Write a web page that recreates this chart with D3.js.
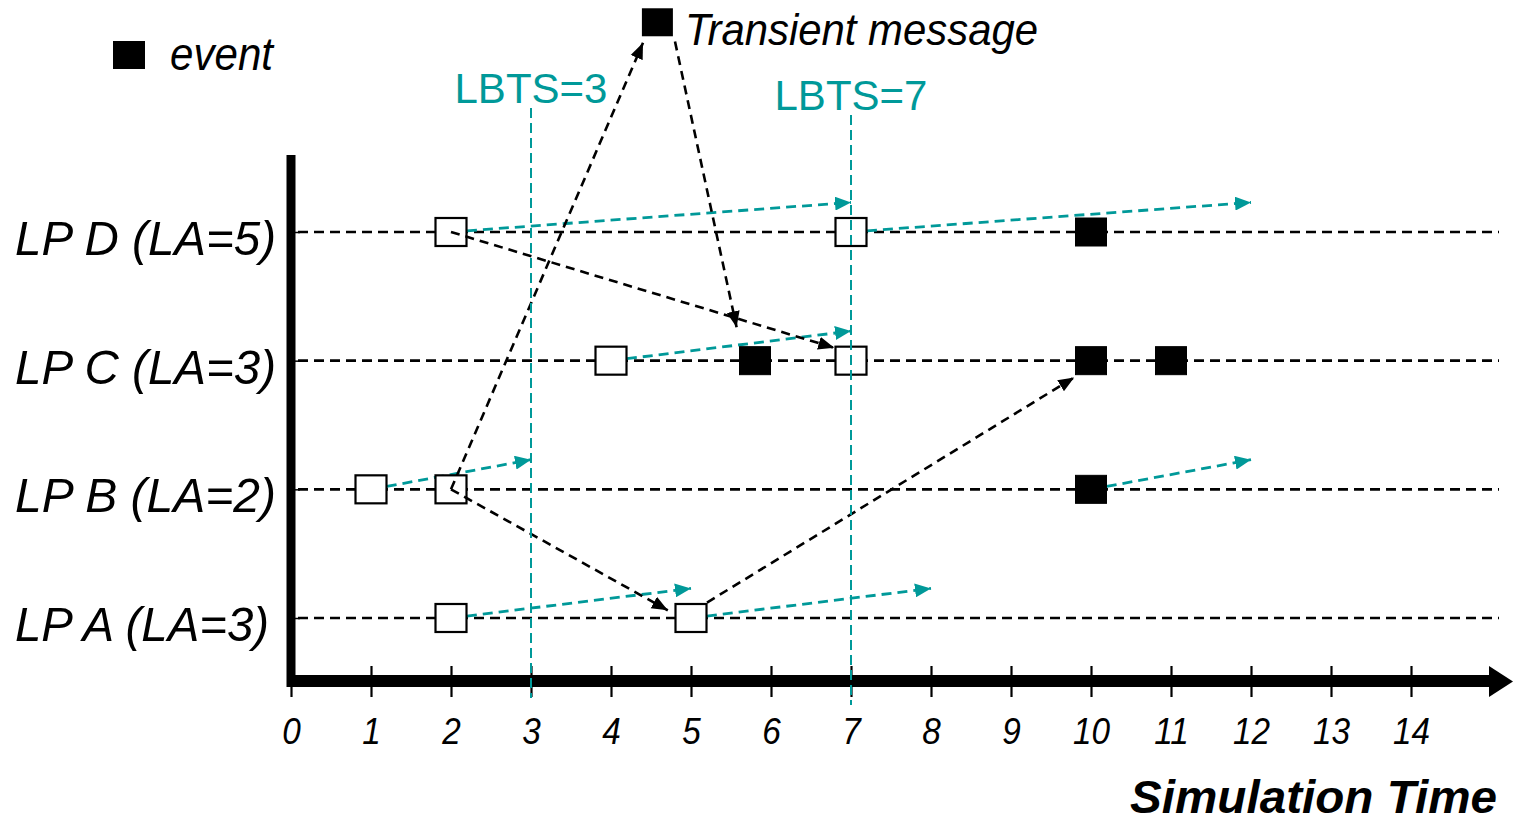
<!DOCTYPE html>
<html><head><meta charset="utf-8">
<script src="https://cdn.jsdelivr.net/npm/d3@7"></script>
<style>body{margin:0;background:#fff;} svg{display:block;}</style>
</head><body>
<svg id="chart" width="1513" height="823"></svg>
<script>
// ---------- data ----------
const lpNames = ["LP A", "LP B", "LP C", "LP D"];           // levels 0..3
const lpLookahead = [3, 2, 3, 5];
const xTickValues = [0, 1, 2, 3, 4, 5, 6, 7, 8, 9, 10, 11, 12, 13, 14];
const lbtsValues = [3, 7];
const openEvents = [
  {lp: "LP D", t: 2}, {lp: "LP D", t: 7},
  {lp: "LP C", t: 4}, {lp: "LP C", t: 7},
  {lp: "LP B", t: 1}, {lp: "LP B", t: 2},
  {lp: "LP A", t: 2}, {lp: "LP A", t: 5}
];
const filledEvents = [
  {lp: "LP D", t: 10},
  {lp: "LP C", t: 5.8}, {lp: "LP C", t: 10}, {lp: "LP C", t: 11},
  {lp: "LP B", t: 10}
];
const transientEvent = {t: 4.58, level: 4.63};
const lookaheadSources = [
  {lp: "LP D", t: 2}, {lp: "LP D", t: 7},
  {lp: "LP C", t: 4},
  {lp: "LP B", t: 1}, {lp: "LP B", t: 10},
  {lp: "LP A", t: 2}, {lp: "LP A", t: 5}
];
// messages: start (time, level) -> end (time, level)
const messages = [
  {t0: 2,   l0: 1,    t1: 4.40, l1: 4.47},
  {t0: 4.8, l0: 4.48, t1: 5.57, l1: 2.26},
  {t0: 2,   l0: 3,    t1: 6.79, l1: 2.10},
  {t0: 2,   l0: 1,    t1: 4.71, l1: 0.06},
  {t0: 5.2, l0: 0.12, t1: 9.79, l1: 1.87}
];
const lpLabels = ["LP A (LA=3)", "LP B (LA=2)", "LP C (LA=3)", "LP D (LA=5)"];

// ---------- setup ----------
const TEAL = "#009999";
const FONT = "'Liberation Sans', Arial, sans-serif";
const svg = d3.select("#chart");
const x = d3.scaleLinear().domain([0, 14]).range([291, 1411]);
const y = d3.scaleLinear().domain([0, 3]).range([618, 232]);
const level = name => lpNames.indexOf(name);
const BW = 31, BH = 28;

const defs = svg.append("defs");
defs.append("marker").attr("id", "blackHead").attr("markerUnits", "userSpaceOnUse")
  .attr("viewBox", "0 -7 16 14").attr("markerWidth", 16).attr("markerHeight", 14)
  .attr("refX", 16).attr("refY", 0).attr("orient", "auto")
  .append("path").attr("d", "M0,-6.5L16,0L0,6.5Z").attr("fill", "#000");
defs.append("marker").attr("id", "tealHead").attr("markerUnits", "userSpaceOnUse")
  .attr("viewBox", "0 -7 16 14").attr("markerWidth", 16).attr("markerHeight", 14)
  .attr("refX", 16).attr("refY", 0).attr("orient", "auto")
  .append("path").attr("d", "M0,-7L16,0L0,7Z").attr("fill", TEAL);

// row lines
svg.append("g").selectAll("line").data(lpNames).join("line")
  .attr("x1", 298).attr("x2", x(15.1))
  .attr("y1", d => y(level(d))).attr("y2", d => y(level(d)))
  .attr("stroke", "#000").attr("stroke-width", 2.6).attr("stroke-dasharray", "10,6");

// axes
const xAxisG = svg.append("g").attr("transform", "translate(0,666)")
  .call(d3.axisBottom(x).tickValues(xTickValues).tickSize(31).tickPadding(21).tickFormat(d3.format("d")));
xAxisG.select(".domain").remove();
xAxisG.selectAll(".tick line").attr("stroke", "#000").attr("stroke-width", 2.2);
xAxisG.selectAll(".tick text").attr("font-family", FONT).attr("font-style", "italic")
  .attr("font-size", 37).attr("fill", "#000")
  .attr("transform", "scale(0.9,1)");

svg.append("line").attr("x1", 287).attr("x2", 1495).attr("y1", 681).attr("y2", 681)
  .attr("stroke", "#000").attr("stroke-width", 12);
svg.append("path").attr("d", `M1489,666L1513,681.5L1489,697Z`).attr("fill", "#000");
svg.append("line").attr("x1", 291).attr("x2", 291).attr("y1", 155).attr("y2", 687)
  .attr("stroke", "#000").attr("stroke-width", 9);
const yAxisG = svg.append("g").attr("transform", "translate(295,0)")
  .call(d3.axisRight(y).tickValues([0, 1, 2, 3]).tickSize(5).tickFormat(""));
yAxisG.select(".domain").remove();
yAxisG.selectAll(".tick line").attr("stroke", "#000").attr("stroke-width", 1.5);

// lookahead arrows (teal)
svg.append("g").selectAll("line").data(lookaheadSources).join("line")
  .attr("x1", d => x(d.t)).attr("y1", d => y(level(d.lp)))
  .attr("x2", d => x(d.t + lpLookahead[level(d.lp)])).attr("y2", d => y(level(d.lp) + 0.23))
  .attr("stroke", TEAL).attr("stroke-width", 2.8).attr("stroke-dasharray", "10,6")
  .attr("marker-end", "url(#tealHead)");

// event boxes
svg.append("g").selectAll("rect").data(openEvents).join("rect")
  .attr("x", d => x(d.t) - BW / 2).attr("y", d => y(level(d.lp)) - BH / 2)
  .attr("width", BW).attr("height", BH)
  .attr("fill", "#fff").attr("stroke", "#000").attr("stroke-width", 2.2);
svg.append("g").selectAll("rect").data(filledEvents).join("rect")
  .attr("x", d => x(d.t) - BW / 2).attr("y", d => y(level(d.lp)) - BH / 2)
  .attr("width", BW).attr("height", BH)
  .attr("fill", "#000").attr("stroke", "#000").attr("stroke-width", 1);
svg.append("rect").datum(transientEvent)
  .attr("x", d => x(d.t) - BW / 2).attr("y", d => y(d.level) - BH / 2)
  .attr("width", BW).attr("height", BH).attr("fill", "#000");

// messages (black)
svg.append("g").selectAll("line").data(messages).join("line")
  .attr("x1", d => x(d.t0)).attr("y1", d => y(d.l0))
  .attr("x2", d => x(d.t1)).attr("y2", d => y(d.l1))
  .attr("stroke", "#000").attr("stroke-width", 2.6).attr("stroke-dasharray", "9,6")
  .attr("marker-end", "url(#blackHead)");

// LBTS lines
const lbtsTop = [108, 115];
svg.append("g").selectAll("line").data(lbtsValues).join("line")
  .attr("x1", d => x(d)).attr("x2", d => x(d))
  .attr("y1", (d, i) => lbtsTop[i]).attr("y2", (d, i) => 698 + i * 7)
  .attr("stroke", TEAL).attr("stroke-width", 2).attr("stroke-dasharray", "10,5");
svg.append("g").selectAll("text").data(lbtsValues).join("text")
  .attr("x", d => x(d)).attr("y", (d, i) => lbtsTop[i] - 5)
  .attr("text-anchor", "middle").attr("font-family", FONT).attr("font-size", 42)
  .attr("fill", TEAL).attr("textLength", 153).attr("lengthAdjust", "spacingAndGlyphs")
  .text(d => "LBTS=" + d);

// LP labels
svg.append("g").selectAll("text").data(lpLabels).join("text")
  .attr("x", 15).attr("y", (d, i) => y(i) + 23)
  .attr("font-family", FONT).attr("font-style", "italic").attr("font-size", 49)
  .attr("fill", "#000")
  .attr("textLength", d => d.startsWith("LP A") ? 254 : 261).attr("lengthAdjust", "spacingAndGlyphs")
  .text(d => d);

// legend
svg.append("rect").attr("x", 113).attr("y", 41).attr("width", 32).attr("height", 28).attr("fill", "#000");
svg.append("text").attr("x", 170).attr("y", 70).attr("font-family", FONT).attr("font-style", "italic")
  .attr("font-size", 47).attr("textLength", 103).attr("lengthAdjust", "spacingAndGlyphs").text("event");
svg.append("text").attr("x", 685).attr("y", 45).attr("font-family", FONT).attr("font-style", "italic")
  .attr("font-size", 44).attr("textLength", 353).attr("lengthAdjust", "spacingAndGlyphs").text("Transient message");

// axis title
svg.append("text").attr("x", 1130).attr("y", 813).attr("font-family", FONT).attr("font-style", "italic")
  .attr("font-weight", "bold").attr("font-size", 46).attr("textLength", 367).attr("lengthAdjust", "spacingAndGlyphs")
  .text("Simulation Time");
</script>
</body></html>
